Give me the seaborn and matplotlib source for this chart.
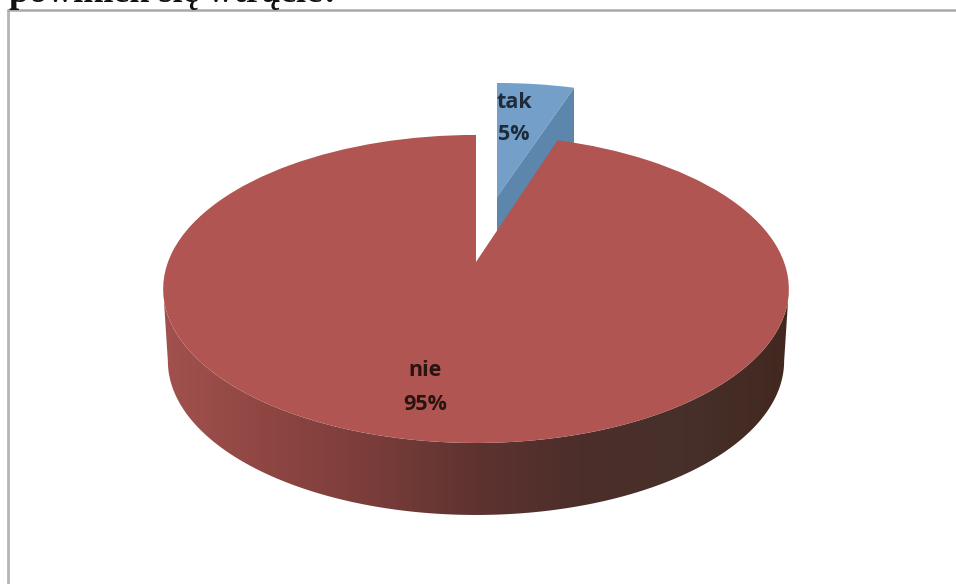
import matplotlib
matplotlib.use('Agg')
import matplotlib.pyplot as plt
import numpy as np
import seaborn as sns
from matplotlib.colors import LinearSegmentedColormap
from matplotlib.patches import Polygon
from matplotlib.transforms import Transform

labels = ["tak", "nie"]
shares = [5, 95]
title_text = "powinien się wtrącić?"

TILT = 0.175


class Tilt(Transform):
    """Turns the flat unit pie into the tilted disc, in picture pixels."""
    input_dims = 2
    output_dims = 2

    def __init__(self, cx, cy, rx, ry, k=TILT):
        super().__init__()
        self.cx, self.cy, self.rx, self.ry, self.k = cx, cy, rx, ry, k

    def transform_non_affine(self, values):
        values = np.asarray(values)
        w = 1 + self.k * values[:, 1]
        return np.column_stack([self.cx + self.rx * values[:, 0] / w,
                                self.cy - self.ry * values[:, 1] / w])


sns.set_theme(style="white")
plt.rcParams['font.family'] = ['Open Sans', 'DejaVu Sans']

fig = plt.figure(figsize=(9.56, 5.84), dpi=100)
ax = fig.add_axes([0, 0, 1, 1])

wedges, _ = ax.pie(shares, startangle=90, counterclock=False,
                   colors=["#739fc9", "#b05551"],
                   wedgeprops={"linewidth": 0, "edgecolor": "none"})
ax.set_aspect('auto')
ax.axis('off')

red_tilt = Tilt(476, 262, 308, 149.3)
blue_tilt = Tilt(497, 197, 291, 134)
wedges[0].set_transform(blue_tilt + ax.transData)
wedges[1].set_transform(red_tilt + ax.transData)
wedges[0].set_zorder(2)
wedges[1].set_zorder(5)

# cut face of the pulled out slice
ax.fill([497, 574, 574, 497], [197, 88, 160, 265], color="#5c86ac", lw=0, zorder=2.5)

# outer wall of the big slice, one smooth gradient clipped to the rim
wall_cmap = LinearSegmentedColormap.from_list(
    "wall", ["#a2524e", "#8f4643", "#7a3d3a", "#5e3330", "#4c2e2a", "#47302b", "#42281f"])
# rim runs between the widest points of the disc, so the outline has no fold
ys = -np.sqrt(1 - np.cos(np.linspace(np.arcsin(TILT), np.pi - np.arcsin(TILT), 400)) ** 2)
xs = np.cos(np.linspace(np.arcsin(TILT), np.pi - np.arcsin(TILT), 400))
rim = red_tilt.transform_non_affine(np.column_stack([xs, ys]))
floor = np.column_stack([476 + (rim[:, 0] - 476) * 0.985, rim[:, 1] + 72])
outline = Polygon(np.vstack([rim, floor[::-1]]), closed=True, transform=ax.transData,
                  facecolor="none", edgecolor="none")
ax.add_patch(outline)
wall = ax.imshow(np.linspace(0, 1, 256)[None, :], cmap=wall_cmap, aspect='auto',
                 extent=[160, 790, 525, 280], zorder=3, interpolation='bilinear')
wall.set_clip_path(outline)

ax.set_xlim(0, 956)
ax.set_ylim(584, 0)

text_style = dict(ha='center', va='center', fontsize=15.5, fontweight='bold', zorder=6)
ax.text(514, 103, labels[0], color="#1d2b3a", **text_style)
ax.text(514, 135, f"{shares[0]}%", color="#1d2b3a", **text_style)
ax.text(425, 371, labels[1], color="#2a1410", **text_style)
ax.text(425, 404, f"{shares[1]}%", color="#2a1410", **text_style)

# chart frame, only left and top show
ax.plot([8, 8], [584, 10], color="#b4b4ba", lw=2, zorder=7)
ax.plot([8, 956], [10, 10], color="#a8a8ae", lw=1.8, zorder=7)

# cut off by the top edge, as in the scan
ax.text(9, 2, title_text, ha='left', va='baseline', fontsize=26,
        fontweight='bold', family='Liberation Serif', color="#111111", zorder=8)

fig.savefig("out.png", dpi=100)
